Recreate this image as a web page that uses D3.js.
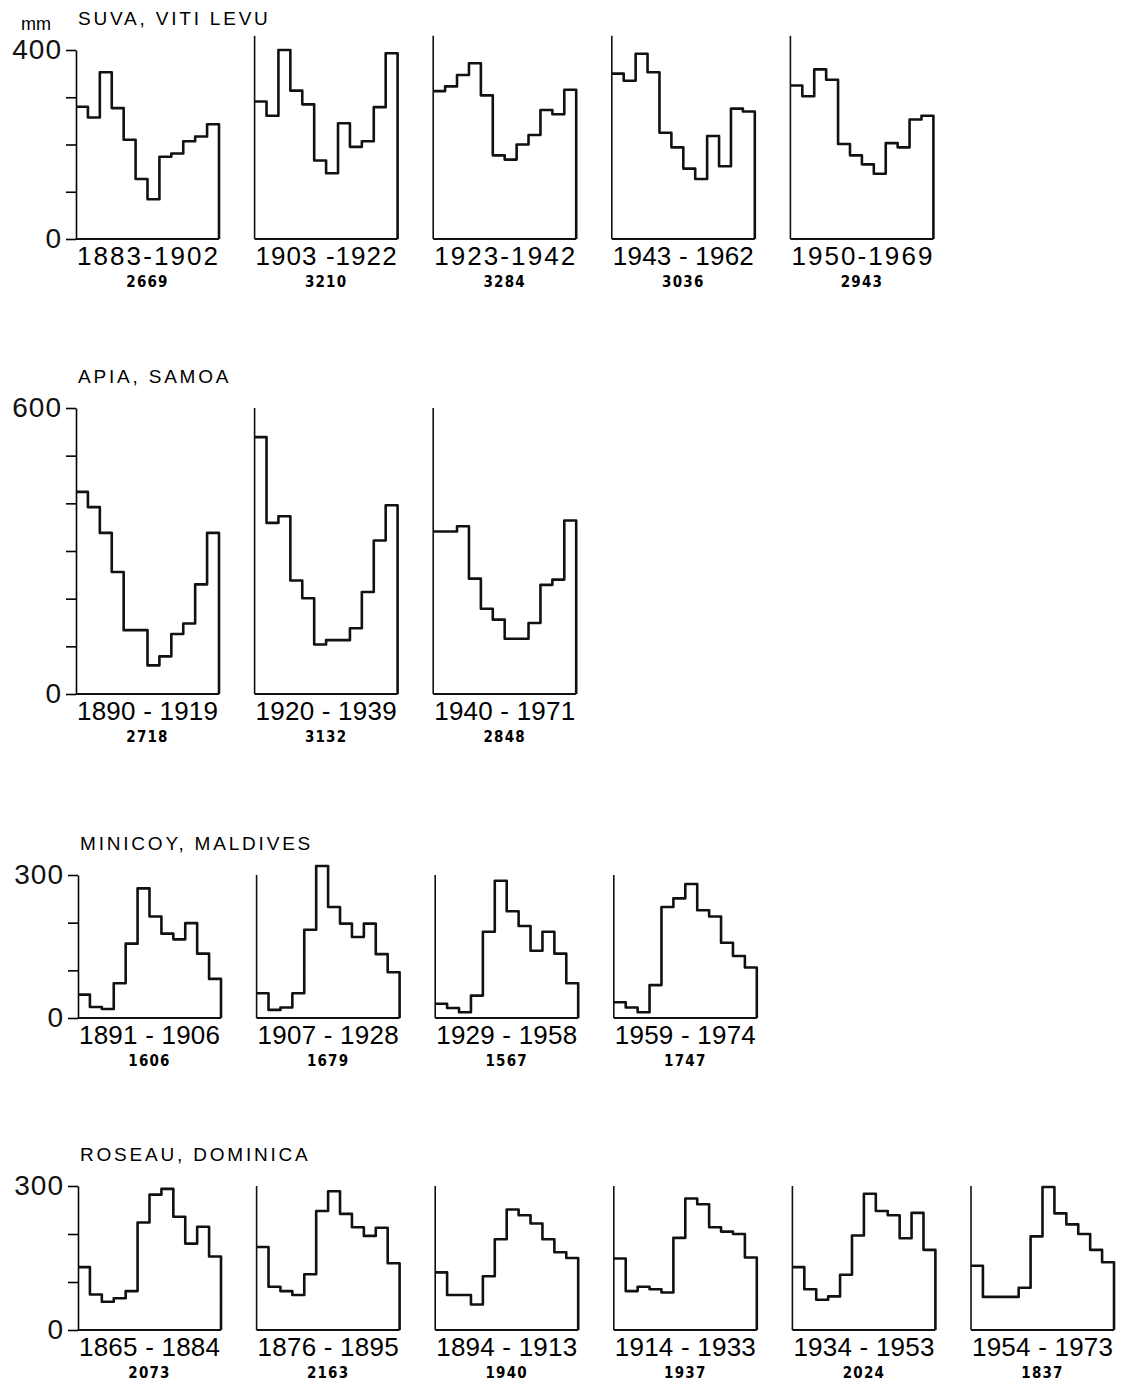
<!DOCTYPE html>
<html>
<head>
<meta charset="utf-8">
<script src="https://cdn.jsdelivr.net/npm/d3@7"></script>
<style>
  body { margin: 0; background: #fff; }
  .title { font-family: "Liberation Sans", Arial, sans-serif; font-size: 19px; letter-spacing: 2.8px; }
  .tick text { font-family: "Liberation Sans", Arial, sans-serif; font-size: 28px; letter-spacing: 1px; }
  .period { font-family: "Liberation Sans", Arial, sans-serif; font-size: 26px; }
  .unit { font-family: "Liberation Sans", Arial, sans-serif; font-size: 18px; }
  .total { font-family: "Liberation Sans Narrow", "DejaVu Sans Condensed", sans-serif; font-size: 15px; font-weight: bold; letter-spacing: 1.2px; }
</style>
</head>
<body>
<div id="chart"></div>
<script>
// monthly rainfall (mm), one array of 12 months per period
var months = ["Jan", "Feb", "Mar", "Apr", "May", "Jun", "Jul", "Aug", "Sep", "Oct", "Nov", "Dec"];

var suvaName = "SUVA, VITI LEVU";
var suvaPeriods = ["1883-1902", "1903 -1922", "1923-1942", "1943 - 1962", "1950-1969"];
var suvaTotals = ["2669", "3210", "3284", "3036", "2943"];
var suvaTicks = [0, 100, 200, 300, 400];
var suvaRain = [
  [280, 257, 353, 277, 210, 127, 84, 174, 181, 207, 217, 243],
  [291, 261, 400, 314, 285, 166, 139, 245, 195, 207, 279, 393],
  [313, 323, 347, 372, 304, 177, 168, 200, 220, 273, 264, 316],
  [350, 335, 392, 353, 225, 194, 149, 127, 218, 154, 276, 270],
  [325, 302, 359, 337, 201, 177, 158, 138, 203, 194, 253, 261]
];

var apiaName = "APIA, SAMOA";
var apiaPeriods = ["1890 - 1919", "1920 - 1939", "1940 - 1971"];
var apiaTotals = ["2718", "3132", "2848"];
var apiaTicks = [0, 100, 200, 300, 400, 500, 600];
var apiaRain = [
  [424, 392, 338, 256, 134, 134, 60, 79, 126, 148, 230, 338],
  [539, 359, 373, 238, 201, 104, 113, 113, 138, 214, 322, 396],
  [341, 341, 352, 242, 179, 156, 116, 116, 149, 229, 240, 364]
];

var minicoyName = "MINICOY, MALDIVES";
var minicoyPeriods = ["1891 - 1906", "1907 - 1928", "1929 - 1958", "1959 - 1974"];
var minicoyTotals = ["1606", "1679", "1567", "1747"];
var minicoyTicks = [0, 100, 200, 300];
var minicoyRain = [
  [49, 23, 19, 73, 156, 272, 213, 177, 165, 199, 135, 82],
  [52, 17, 22, 52, 185, 319, 233, 198, 170, 198, 134, 96],
  [30, 21, 12, 47, 181, 288, 224, 193, 141, 181, 135, 73],
  [33, 22, 12, 69, 233, 251, 281, 226, 213, 158, 130, 106]
];

var roseauName = "ROSEAU, DOMINICA";
var roseauPeriods = ["1865 - 1884", "1876 - 1895", "1894 - 1913", "1914 - 1933", "1934 - 1953", "1954 - 1973"];
var roseauTotals = ["2073", "2163", "1940", "1937", "2024", "1837"];
var roseauTicks = [0, 100, 200, 300];
var roseauRain = [
  [131, 74, 59, 66, 81, 224, 282, 294, 236, 180, 215, 153],
  [173, 90, 81, 73, 116, 248, 289, 242, 214, 196, 213, 139],
  [120, 73, 73, 53, 112, 189, 251, 239, 222, 189, 162, 150],
  [149, 81, 90, 85, 78, 192, 274, 262, 214, 205, 200, 151],
  [131, 85, 63, 70, 115, 197, 284, 248, 239, 191, 244, 167],
  [134, 69, 69, 69, 88, 195, 298, 243, 220, 200, 167, 141]
];

var width = 1128, height = 1382;
var panelW = 143, pitch = 178.6;

var svg = d3.select("#chart").append("svg")
    .attr("width", width)
    .attr("height", height);

// one row per station: where its zero line and top tick sit on the page
var rows = [
  {name: suvaName, periods: suvaPeriods, totals: suvaTotals, ticks: suvaTicks, rain: suvaRain, left: 76, top: 50, base: 239, frameTop: 430},
  {name: apiaName, periods: apiaPeriods, totals: apiaTotals, ticks: apiaTicks, rain: apiaRain, left: 76, top: 408, base: 694},
  {name: minicoyName, periods: minicoyPeriods, totals: minicoyTotals, ticks: minicoyTicks, rain: minicoyRain, left: 78, top: 875, base: 1018},
  {name: roseauName, periods: roseauPeriods, totals: roseauTotals, ticks: roseauTicks, rain: roseauRain, left: 78, top: 1186, base: 1330}
];

var step = d3.line()
    .x(function(d) { return d.x; })
    .y(function(d) { return d.y; })
    .curve(d3.curveStepAfter);

rows.forEach(function(row, r) {
  var yMax = d3.max(row.ticks);
  var y = d3.scaleLinear().domain([0, yMax]).range([row.base, row.top]);
  var g = svg.append("g");

  g.append("text")
    .attr("class", "title")
    .attr("x", row.left + 2)
    .attr("y", row.top - 25)
    .text(row.name);

  if (r == 0) {
    g.append("text")
      .attr("class", "unit")
      .attr("x", 36)
      .attr("y", 30)
      .attr("text-anchor", "middle")
      .text("mm");
  }

  row.rain.forEach(function(vals, p) {
    var x0 = row.left + p * pitch;
    var x = d3.scaleLinear().domain([0, months.length]).range([x0, x0 + panelW]);
    var pg = g.append("g");

    // left axis: full ticks on the first panel, plain line on the rest
    if (p == 0) {
      pg.append("g")
        .attr("transform", "translate(" + x0 + ",0)")
        .call(d3.axisLeft(y)
          .tickValues(row.ticks)
          .tickSize(10)
          .tickSizeOuter(0)
          .tickPadding(4)
          .tickFormat(function(d) { return (d == 0 || d == yMax) ? d : ""; }))
        .call(function(a) {
          a.select(".domain").attr("stroke-width", 1.6);
          a.selectAll(".tick line").attr("stroke-width", 1.6);
          a.selectAll(".tick text").attr("fill", "#111");
        });
    } else {
      pg.append("line")
        .attr("x1", x0).attr("x2", x0)
        .attr("y1", y(0)).attr("y2", y(row.frameTop || yMax))
        .attr("stroke", "#111")
        .attr("stroke-width", 1.6);
    }

    // zero line
    pg.append("line")
      .attr("x1", x0).attr("x2", x0 + panelW)
      .attr("y1", y(0)).attr("y2", y(0))
      .attr("stroke", "#111")
      .attr("stroke-width", 2);

    var pts = vals.map(function(v, i) { return {x: x(i), y: y(v)}; });
    pts.push({x: x(12), y: y(vals[11])});
    pts.push({x: x(12), y: y(0)});

    pg.append("path")
      .attr("d", step(pts))
      .attr("fill", "none")
      .attr("stroke", "#111")
      .attr("stroke-width", 2.6)
      .attr("stroke-linejoin", "round");

    pg.append("text")
      .attr("class", "period")
      .attr("x", x0 + panelW / 2)
      .attr("y", row.base + 26)
      .attr("text-anchor", "middle")
      .attr("textLength", 141)
      .attr("lengthAdjust", "spacing")
      .text(row.periods[p]);

    pg.append("text")
      .attr("class", "total")
      .attr("x", x0 + panelW / 2)
      .attr("y", row.base + 48)
      .attr("text-anchor", "middle")
      .text(row.totals[p]);
  });
});
</script>
</body>
</html>
